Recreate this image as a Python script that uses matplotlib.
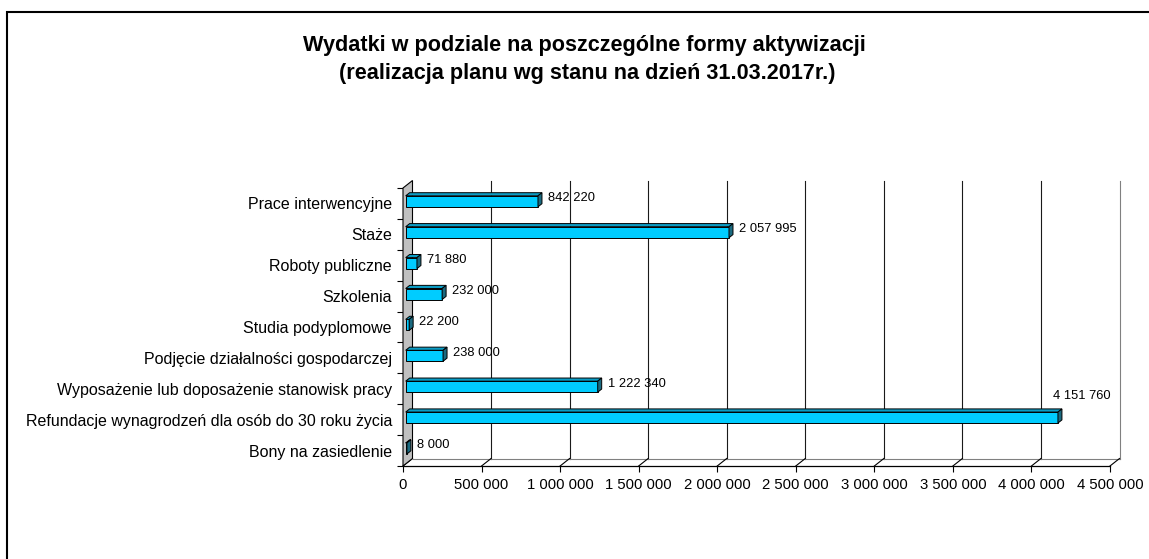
import matplotlib
matplotlib.use("Agg")
import matplotlib.pyplot as plt
from matplotlib.patches import Polygon, Rectangle
import numpy as np

plt.rcParams['font.family'] = ['Liberation Sans', 'DejaVu Sans']

# ---- data ----
categories = [
    "Prace interwencyjne",
    "Staże",
    "Roboty publiczne",
    "Szkolenia",
    "Studia podyplomowe",
    "Podjęcie działalności gospodarczej",
    "Wyposażenie lub doposażenie stanowisk pracy",
    "Refundacje wynagrodzeń dla osób do 30 roku życia",
    "Bony na zasiedlenie",
]
values = [842220, 2057995, 71880, 232000, 22200, 238000, 1222340, 4151760, 8000]
x_ticks = [0, 500000, 1000000, 1500000, 2000000, 2500000, 3000000, 3500000, 4000000, 4500000]
x_tick_labels = ["0", "500 000", "1 000 000", "1 500 000", "2 000 000", "2 500 000",
                 "3 000 000", "3 500 000", "4 000 000", "4 500 000"]
title_lines = ["Wydatki w podziale na poszczególne formy aktywizacji",
               "(realizacja planu wg stanu na dzień 31.03.2017r.)"]

def fmt(v):
    return f"{v:,}".replace(",", " ")

W, H, DPI = 1149, 559, 100
fig = plt.figure(figsize=(W / DPI, H / DPI), dpi=DPI)

# front plane of 3D box in pixels
L, R, B, T = 403, 1110, 466, 188
ax = fig.add_axes([L / W, (H - B) / H, (R - L) / W, (B - T) / H])
n = len(categories)
xmax = x_ticks[-1]
ax.set_xlim(0, xmax)
ax.set_ylim(-0.5, n - 0.5)
for s in ax.spines.values():
    s.set_visible(False)
ax.set_facecolor("none")

# pixel -> data units
px_x = xmax / (R - L)
px_y = n / (B - T)
DX = 9.5 * px_x   # depth offset (full depth)
DY = 7.5 * px_y

ypos = np.arange(n)[::-1]  # first category at top

# back wall grid lines
for xt in x_ticks[1:-1]:
    ax.plot([xt + DX, xt + DX], [-0.5 + DY, n - 0.5 + DY], color="#1a1a1a", lw=0.8,
            clip_on=False, zorder=1)
# right edge of back wall
ax.plot([xmax + DX, xmax + DX], [-0.5 + DY, n - 0.5 + DY], color="#808080", lw=0.8,
        clip_on=False, zorder=1)
# floor
ax.plot([DX, xmax + DX], [-0.5 + DY, -0.5 + DY], color="#808080", lw=0.8, clip_on=False, zorder=1)
for xt in x_ticks:
    ax.plot([xt, xt + DX], [-0.5, -0.5 + DY], color="#000000", lw=0.8, clip_on=False, zorder=1)
ax.plot([0, xmax], [-0.5, -0.5], color="#000000", lw=0.9, clip_on=False, zorder=2)

# left wall
wall = Polygon([(0, -0.5), (0, n - 0.5), (DX, n - 0.5 + DY), (DX, -0.5 + DY)],
               closed=True, facecolor="#C0C0C0", edgecolor="#000000", lw=0.8,
               clip_on=False, zorder=2)
ax.add_patch(wall)

# bars
f0, f1 = 0.28, 0.70
h = 0.356
front_col, top_col, side_col = "#00CCFF", "#0A9CC4", "#1A6A80"
ax.barh(ypos + f0 * DY, values, height=h, left=f0 * DX, color=front_col,
        edgecolor="#000000", linewidth=0.7, zorder=5, clip_on=False)
for v, y in zip(values, ypos):
    yb = y - h / 2
    yt = y + h / 2
    top = Polygon([(f0 * DX, yt + f0 * DY), (v + f0 * DX, yt + f0 * DY),
                   (v + f1 * DX, yt + f1 * DY), (f1 * DX, yt + f1 * DY)],
                  closed=True, facecolor=top_col, edgecolor="#000000", lw=0.7,
                  clip_on=False, zorder=4)
    side = Polygon([(v + f0 * DX, yb + f0 * DY), (v + f1 * DX, yb + f1 * DY),
                    (v + f1 * DX, yt + f1 * DY), (v + f0 * DX, yt + f0 * DY)],
                   closed=True, facecolor=side_col, edgecolor="#000000", lw=0.7,
                   clip_on=False, zorder=6)
    ax.add_patch(top)
    ax.add_patch(side)
    end = v + f0 * DX
    if v > 0.85 * xmax:
        ax.text(end + 24 * px_x, y + f0 * DY + 22 * px_y, fmt(v), ha="center", va="center",
                fontsize=9.3, zorder=7)
    else:
        ax.text(end + 10 * px_x, y + f0 * DY + 3 * px_y, fmt(v), ha="left", va="center",
                fontsize=9.3, zorder=7)

# x axis ticks
ax.set_xticks(x_ticks)
ax.set_xticklabels(x_tick_labels, fontsize=10.7)
ax.tick_params(axis="x", direction="out", length=4.3, width=0.8, pad=4.5, color="#000000")

# y axis: category labels (major, no tick) and boundary ticks (minor)
ax.set_yticks(ypos)
ax.set_yticklabels(categories, fontsize=11.5)
ax.tick_params(axis="y", which="major", length=0, pad=8)
ax.set_yticks(np.arange(n + 1) - 0.5, minor=True)
ax.tick_params(axis="y", which="minor", direction="out", length=4.3, width=0.8, color="#000000")

# title
fig.text(584 / W, 1 - 46 / H, title_lines[0], ha="center", va="center",
         fontsize=15.6, fontweight="bold")
fig.text(587 / W, 1 - 73 / H, title_lines[1], ha="center", va="center",
         fontsize=15.6, fontweight="bold")

# outer border (cropped at right and bottom)
fig.patches.append(Rectangle((7 / W, -0.1), 1.2, 1 - 12 / H + 0.1, transform=fig.transFigure,
                             fill=False, edgecolor="#000000", lw=1.5, zorder=0))

fig.savefig("out.png", dpi=DPI)
